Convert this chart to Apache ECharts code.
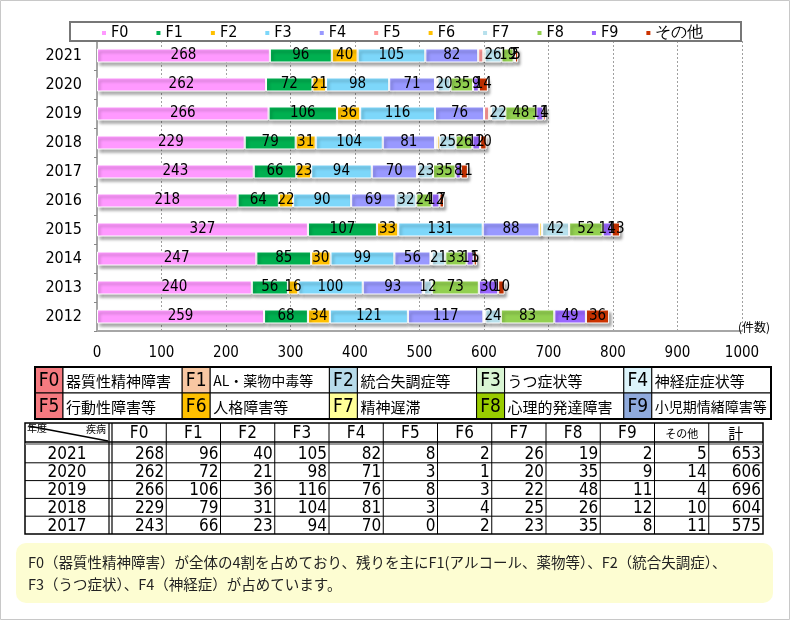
<!DOCTYPE html>
<html>
<head>
<meta charset="utf-8">
<script src="https://cdn.jsdelivr.net/npm/echarts@6/dist/echarts.min.js"></script>
<style>
html, body { margin: 0; padding: 0; background: #fff; }
#chart { width: 790px; height: 620px; }
</style>
</head>
<body>
<div id="chart"></div>
<script>
/**
 * 年度別・疾病別 件数
 */
var years = ['2021', '2020', '2019', '2018', '2017', '2016', '2015', '2014', '2013', '2012'];
var F0 = [268, 262, 266, 229, 243, 218, 327, 247, 240, 259];
var F1 = [96, 72, 106, 79, 66, 64, 107, 85, 56, 68];
var F2 = [40, 21, 36, 31, 23, 22, 33, 30, 16, 34];
var F3 = [105, 98, 116, 104, 94, 90, 131, 99, 100, 121];
var F4 = [82, 71, 76, 81, 70, 69, 88, 56, 93, 117];
var F5 = [8, 3, 8, 3, 0, 0, 0, 1, 1, 1];
var F6 = [2, 1, 3, 4, 2, 0, 4, 1, 1, 2];
var F7 = [26, 20, 22, 25, 23, 32, 42, 21, 12, 24];
var F8 = [19, 35, 48, 26, 35, 24, 52, 33, 73, 83];
var F9 = [2, 9, 11, 12, 8, 12, 14, 11, 30, 49];
var others = [5, 14, 4, 10, 11, 7, 13, 5, 10, 36];

var seriesNames = ['F0', 'F1', 'F2', 'F3', 'F4', 'F5', 'F6', 'F7', 'F8', 'F9', 'その他'];
var seriesValues = [F0, F1, F2, F3, F4, F5, F6, F7, F8, F9, others];
var barColors = ['#ff99ff', '#00b050', '#ffc000', '#7dd7fa', '#9999ff', '#ff9999', '#ffc000', '#b7e0ec', '#92d050', '#9966ff', '#cc3300'];
// F5, F6 はラベル無し
var labelHidden = ['F5', 'F6'];

// 疾病コード凡例
var codeNames = ['F0', 'F1', 'F2', 'F3', 'F4', 'F5', 'F6', 'F7', 'F8', 'F9'];
var codeDesc = ['器質性精神障害', 'AL・薬物中毒等', '統合失調症等', 'うつ症状等', '神経症症状等',
                '行動性障害等', '人格障害等', '精神遅滞', '心理的発達障害', '小児期情緒障害等'];
var codeColors = ['#f57a80', '#f8c7a2', '#b7dbea', '#d9f5d3', '#dcf4fb',
                  '#f57a80', '#ffc000', '#ffff99', '#99cc00', '#8faadc'];

// 表（直近5年）
var tableYears = 5;
var tableHeader = ['F0', 'F1', 'F2', 'F3', 'F4', 'F5', 'F6', 'F7', 'F8', 'F9', 'その他', '計'];

var noteLines = [
  'F0（器質性精神障害）が全体の4割を占めており、残りを主にF1(アルコール、薬物等）、F2（統合失調症）、',
  'F3（うつ症状）、F4（神経症）が占めています。'
];

var NUM_FONT = "'DejaVu Sans Condensed', 'Liberation Sans Narrow', Roboto, sans-serif";
var JP_FONT = "'Noto Sans CJK JP', sans-serif";

/**
 * 棒グラフ series
 */
function buildSeries() {
  var list = [];
  for (var i = 0; i < seriesNames.length; i++) {
    var hide = labelHidden.indexOf(seriesNames[i]) != -1;
    list.push({
      name: seriesNames[i],
      type: 'bar',
      stack: 'total',
      barWidth: 14,
      data: seriesValues[i],
      itemStyle: {
        color: barColors[i],
        borderColor: '#fff',
        borderWidth: 1,
        shadowColor: 'rgba(0,0,0,0.35)',
        shadowBlur: 3,
        shadowOffsetX: 2,
        shadowOffsetY: 3
      },
      label: {
        show: !hide,
        position: 'inside',
        color: '#000',
        fontSize: 15,
        fontFamily: NUM_FONT,
        formatter: function (p) { return p.value > 0 ? p.value : ''; }
      }
    });
  }
  return list;
}

function txt(x, y, s, size, font, align, extra) {
  var st = { x: x, y: y, text: s, fontSize: size, fontFamily: font, fill: '#000',
             align: align || 'left', verticalAlign: 'middle' };
  if (extra) for (var k in extra) st[k] = extra[k];
  return { type: 'text', silent: true, z: 10, style: st };
}
function line(x1, y1, x2, y2, w, color) {
  return { type: 'line', silent: true, z: 10,
           shape: { x1: x1, y1: y1, x2: x2, y2: y2 },
           style: { stroke: color || '#000', lineWidth: w || 1 } };
}
function rect(x, y, w, h, fill, stroke, lw, r) {
  return { type: 'rect', silent: true, z: 9,
           shape: { x: x, y: y, width: w, height: h, r: r || 0 },
           style: { fill: fill || 'none', stroke: stroke || 'none', lineWidth: lw || 0 } };
}

/**
 * 凡例ボックス・表・コメント
 */
function buildGraphics() {
  var g = [];
  // 外枠
  g.push(rect(0.5, 0.5, 789, 619, 'none', '#c8c8c8', 1));
  // 上部凡例枠
  g.push(rect(70, 22, 671, 19, '#fff', '#777', 2));
  // (件数)
  g.push(txt(738, 327, '(件数)', 12, JP_FONT, 'left'));

  // 疾病コード凡例
  var lx = 35, ly = 367, lw = 736, rowH = 26, grpW = lw / 5, codeW = 28;
  for (var i = 0; i < codeNames.length; i++) {
    var c = i % 5, r = Math.floor(i / 5);
    var x = lx + c * grpW, y = ly + r * rowH;
    g.push(rect(x, y, codeW, rowH, codeColors[i], '#000', 1));
    g.push(rect(x + codeW, y, grpW - codeW, rowH, '#fff', '#000', 1));
    g.push(txt(x + codeW / 2, y + rowH / 2 + 1, codeNames[i], 19, NUM_FONT, 'center'));
    g.push(txt(x + codeW + 3, y + rowH / 2 + 1, codeDesc[i], codeDesc[i].length > 7 ? 14 : 15, JP_FONT, 'left'));
  }
  g.push(rect(lx, ly, lw, rowH * 2, 'none', '#000', 2));

  // 表
  var tx = 25, tRight = 763, yearW = 84, gap = 3;
  var colX0 = tx + yearW + gap;
  var colW = (tRight - colX0) / tableHeader.length;
  var hTop = 423, hBot = 442, bodyTop = 445, rH = 17.8;
  var tBot = bodyTop + rH * tableYears;
  g.push(rect(tx, hTop, tRight - tx, tBot - hTop, '#fff', '#000', 1.5));
  // ヘッダ下二重線
  g.push(line(tx, hBot, tRight, hBot, 1.5, '#000'));
  g.push(line(tx, bodyTop - 1, tRight, bodyTop - 1, 1.5, '#777'));
  // 年度列の二重線
  g.push(line(tx + yearW, hTop, tx + yearW, tBot, 1.2));
  g.push(line(colX0, hTop, colX0, tBot, 1.2));
  for (var k = 1; k < tableHeader.length; k++) {
    g.push(line(colX0 + colW * k, hTop, colX0 + colW * k, tBot, 1));
  }
  for (var j = 1; j < tableYears; j++) {
    g.push(line(tx, bodyTop + rH * j, tRight, bodyTop + rH * j, 1));
  }
  // 斜線ヘッダ
  g.push(line(tx + 4, hTop + 3, tx + yearW - 1, hBot - 1, 1.5));
  g.push(txt(tx + 2, hTop + 5, '年度', 10, JP_FONT, 'left'));
  g.push(txt(tx + yearW - 3, hTop + 6, '疾病', 10, JP_FONT, 'right'));
  for (var h = 0; h < tableHeader.length; h++) {
    var isJp = tableHeader[h] == 'その他' || tableHeader[h] == '計';
    g.push(txt(colX0 + colW * h + colW / 2, (hTop + hBot) / 2 + 1, tableHeader[h],
               tableHeader[h] == 'その他' ? 11 : (isJp ? 15 : 17), isJp ? JP_FONT : NUM_FONT, 'center'));
  }
  for (var yi = 0; yi < tableYears; yi++) {
    var cy = bodyTop + rH * yi + rH / 2 + 1;
    g.push(txt(tx + yearW / 2, cy, years[yi], 17, NUM_FONT, 'center'));
    var total = 0;
    for (var s = 0; s < seriesValues.length; s++) {
      var v = seriesValues[s][yi];
      total += v;
      g.push(txt(colX0 + colW * (s + 1) - 2, cy, String(v), 17, NUM_FONT, 'right'));
    }
    g.push(txt(colX0 + colW * seriesValues.length + colW - 2, cy, String(total), 17, NUM_FONT, 'right'));
  }

  // コメント
  g.push(rect(16, 543, 757, 60, '#fdfdd2', 'none', 0, 10));
  for (var n = 0; n < noteLines.length; n++) {
    g.push(txt(28, 562 + n * 22, noteLines[n], 14.5, JP_FONT, 'left', { fill: '#222' }));
  }
  return g;
}

var myChart = echarts.init(document.getElementById('chart'), null, { renderer: 'canvas' });
var option = {
  animation: false,
  backgroundColor: '#fff',
  color: barColors,
  legend: {
    data: seriesNames,
    left: 100,
    top: 23,
    padding: [2, 0, 2, 0],
    icon: 'rect',
    itemWidth: 6,
    itemHeight: 6,
    itemGap: 26,
    z: 20,
    textStyle: { fontSize: 16, color: '#000', fontFamily: NUM_FONT, padding: [0, 0, 0, -1] }
  },
  grid: { left: 97, right: 48, top: 41, bottom: 289, containLabel: false },
  xAxis: {
    type: 'value',
    min: 0,
    max: 1000,
    interval: 100,
    axisLine: { show: true, lineStyle: { color: '#a6a6a6', width: 2 } },
    axisTick: { show: false },
    axisLabel: { color: '#000', fontSize: 15, margin: 15, fontFamily: NUM_FONT,
                 formatter: function (v) { return String(v); } },
    splitLine: { show: true, lineStyle: { color: '#a0a0a0', type: [2, 2], width: 1 } }
  },
  yAxis: {
    type: 'category',
    inverse: true,
    data: years,
    axisLine: { show: true, lineStyle: { color: '#a6a6a6', width: 2 } },
    axisTick: { show: true, length: 3, lineStyle: { color: '#888' } },
    axisLabel: { color: '#000', fontSize: 16, margin: 15, fontFamily: NUM_FONT }
  },
  series: buildSeries(),
  graphic: buildGraphics()
};
myChart.setOption(option);
</script>
</body>
</html>
